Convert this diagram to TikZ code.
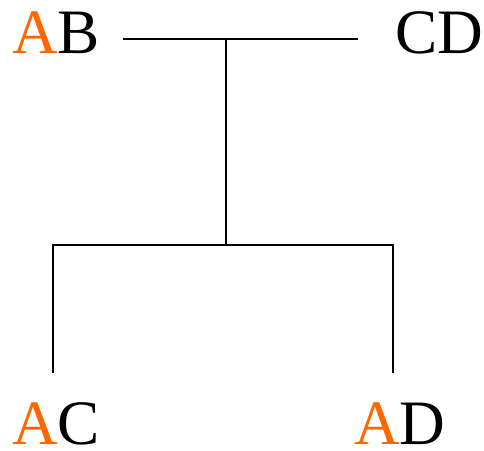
\documentclass[tikz,border=0pt]{standalone}
\usepackage{fontspec}
\setmainfont{Liberation Serif}
\usepackage{tikz}

\definecolor{accent}{RGB}{255,102,0}
\newcommand{\hiA}{\textcolor{accent}{A}}

\begin{document}
\begin{tikzpicture}[
    pair/.style={inner sep=0pt, anchor=base west, font=\fontsize{45}{54}\selectfont},
    link/.style={line width=1pt}]
    \useasboundingbox (0,0) rectangle (12.1,11.25);

    % the four labels
    \node[pair] (ab) at (0.3,9.9)    {\hiA B};
    \node[pair] (cd) at (9.875,9.9)  {CD};
    \node[pair] (ac) at (0.3,0.15)   {\hiA C};
    \node[pair] (ad) at (8.85,0.15)  {\hiA D};

    % branch points
    \coordinate (tl)  at (3.075,10.275);
    \coordinate (tr)  at (8.95,10.275);
    \coordinate (top) at (5.65,10.275);
    \coordinate (mid) at (5.65,5.125);
    \coordinate (ml)  at (1.325,5.125);
    \coordinate (mr)  at (9.825,5.125);
    \coordinate (bl)  at (1.325,1.925);
    \coordinate (br)  at (9.825,1.925);

    \draw[link] (tl) -- (tr);
    \draw[link] (top) -- (mid);
    \draw[link] (bl) -- (ml) -- (mr) -- (br);
\end{tikzpicture}
\end{document}
